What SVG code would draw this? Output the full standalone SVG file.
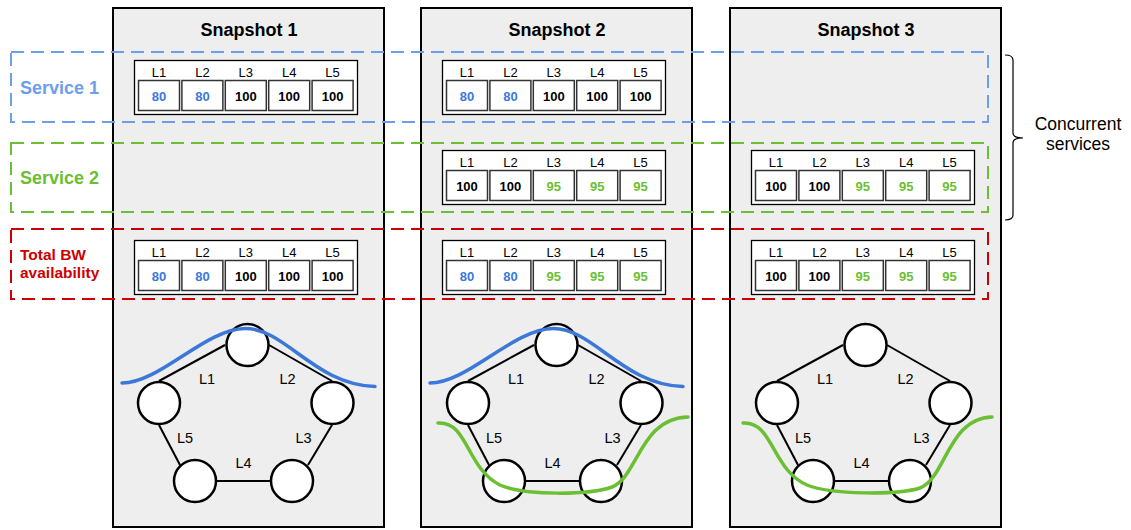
<svg xmlns="http://www.w3.org/2000/svg" width="1131" height="530" viewBox="0 0 1131 530">
  <style>
    .panel { fill: #eeeeee; stroke: #000; stroke-width: 2; }
    .title { font-family: "Liberation Sans", Arial, sans-serif; font-size: 18px; font-weight: bold; fill: #000; text-anchor: middle; }
    .band { fill: none; stroke-width: 2; stroke-dasharray: 13 7; }
    .lbl { font-family: "Liberation Sans", Arial, sans-serif; font-weight: bold; }
    .box { fill: #fff; stroke: #000; stroke-width: 1.3; }
    .cell { fill: #fff; stroke: #333; stroke-width: 1.5; }
    .hdr { font-family: "Liberation Sans", Arial, sans-serif; font-size: 13px; fill: #000; text-anchor: middle; }
    .val { font-family: "Liberation Sans", Arial, sans-serif; font-size: 13px; font-weight: bold; text-anchor: middle; }
    .k { fill: #000; }
    .b { fill: #3c78d8; }
    .g { fill: #6abf32; }
    .edge { stroke: #000; stroke-width: 2; fill: none; }
    .vertex { fill: #fff; stroke: #000; stroke-width: 2.5; }
    .elbl { font-family: "Liberation Sans", Arial, sans-serif; font-size: 14.5px; fill: #000; text-anchor: middle; }
    .path-blue { fill: none; stroke: #3c78d8; stroke-width: 3.5; stroke-linecap: round; }
    .path-green { fill: none; stroke: #6abf32; stroke-width: 3.5; stroke-linecap: round; }
    .note { font-family: "Liberation Sans", Arial, sans-serif; font-size: 17.5px; fill: #000; text-anchor: middle; }
  </style>

  <defs>
    <!-- link table frame: header row L1..L5 plus five value cells -->
    <g id="tableFrame">
      <rect class="box" x="0.5" y="0.5" width="223" height="54"/>
      <rect class="cell" x="4.5" y="20.5" width="41" height="30"/>
      <rect class="cell" x="47.9" y="20.5" width="41" height="30"/>
      <rect class="cell" x="91.3" y="20.5" width="41" height="30"/>
      <rect class="cell" x="134.7" y="20.5" width="41" height="30"/>
      <rect class="cell" x="178.1" y="20.5" width="41" height="30"/>
      <text class="hdr" x="25" y="16.5">L1</text>
      <text class="hdr" x="68.4" y="16.5">L2</text>
      <text class="hdr" x="111.8" y="16.5">L3</text>
      <text class="hdr" x="155.2" y="16.5">L4</text>
      <text class="hdr" x="198.6" y="16.5">L5</text>
    </g>
  </defs>

  <!-- snapshot panels -->
  <g id="panel-1">
    <rect class="panel" x="113" y="8" width="271" height="519"/>
    <text class="title" x="249" y="36">Snapshot 1</text>
  </g>
  <g id="panel-2">
    <rect class="panel" x="421" y="8" width="271" height="519"/>
    <text class="title" x="557" y="36">Snapshot 2</text>
  </g>
  <g id="panel-3">
    <rect class="panel" x="730" y="8" width="271" height="519"/>
    <text class="title" x="866" y="36">Snapshot 3</text>
  </g>

  <!-- service bands -->
  <g id="band-service1">
    <rect class="band" x="11" y="52" width="977" height="70" stroke="#6d9eeb"/>
    <text class="lbl" x="20" y="93.5" font-size="18" fill="#6d9eeb">Service 1</text>
  </g>
  <g id="band-service2">
    <rect class="band" x="11" y="143" width="977" height="69" stroke="#6abf32"/>
    <text class="lbl" x="20" y="183.5" font-size="18" fill="#6abf32">Service 2</text>
  </g>
  <g id="band-total">
    <rect class="band" x="11" y="229" width="977" height="70" stroke="#cc0000"/>
    <text class="lbl" x="20" y="259.5" font-size="15.5" fill="#cc0000">Total BW</text>
    <text class="lbl" x="20" y="277.5" font-size="15.5" fill="#cc0000">availability</text>
  </g>

  <!-- link bandwidth tables -->
  <g id="table-s1-service1" transform="translate(134,60)">
    <use href="#tableFrame"/>
    <text class="val b" x="25" y="40.7">80</text>
    <text class="val b" x="68.4" y="40.7">80</text>
    <text class="val k" x="111.8" y="40.7">100</text>
    <text class="val k" x="155.2" y="40.7">100</text>
    <text class="val k" x="198.6" y="40.7">100</text>
  </g>
  <g id="table-s1-total" transform="translate(134,240)">
    <use href="#tableFrame"/>
    <text class="val b" x="25" y="40.7">80</text>
    <text class="val b" x="68.4" y="40.7">80</text>
    <text class="val k" x="111.8" y="40.7">100</text>
    <text class="val k" x="155.2" y="40.7">100</text>
    <text class="val k" x="198.6" y="40.7">100</text>
  </g>
  <g id="table-s2-service1" transform="translate(442,60)">
    <use href="#tableFrame"/>
    <text class="val b" x="25" y="40.7">80</text>
    <text class="val b" x="68.4" y="40.7">80</text>
    <text class="val k" x="111.8" y="40.7">100</text>
    <text class="val k" x="155.2" y="40.7">100</text>
    <text class="val k" x="198.6" y="40.7">100</text>
  </g>
  <g id="table-s2-service2" transform="translate(442,150)">
    <use href="#tableFrame"/>
    <text class="val k" x="25" y="40.7">100</text>
    <text class="val k" x="68.4" y="40.7">100</text>
    <text class="val g" x="111.8" y="40.7">95</text>
    <text class="val g" x="155.2" y="40.7">95</text>
    <text class="val g" x="198.6" y="40.7">95</text>
  </g>
  <g id="table-s2-total" transform="translate(442,240)">
    <use href="#tableFrame"/>
    <text class="val b" x="25" y="40.7">80</text>
    <text class="val b" x="68.4" y="40.7">80</text>
    <text class="val g" x="111.8" y="40.7">95</text>
    <text class="val g" x="155.2" y="40.7">95</text>
    <text class="val g" x="198.6" y="40.7">95</text>
  </g>
  <g id="table-s3-service2" transform="translate(751,150)">
    <use href="#tableFrame"/>
    <text class="val k" x="25" y="40.7">100</text>
    <text class="val k" x="68.4" y="40.7">100</text>
    <text class="val g" x="111.8" y="40.7">95</text>
    <text class="val g" x="155.2" y="40.7">95</text>
    <text class="val g" x="198.6" y="40.7">95</text>
  </g>
  <g id="table-s3-total" transform="translate(751,240)">
    <use href="#tableFrame"/>
    <text class="val k" x="25" y="40.7">100</text>
    <text class="val k" x="68.4" y="40.7">100</text>
    <text class="val g" x="111.8" y="40.7">95</text>
    <text class="val g" x="155.2" y="40.7">95</text>
    <text class="val g" x="198.6" y="40.7">95</text>
  </g>

  <!-- ring links -->
  <g id="connectors">
    <g id="links-s1">
      <line class="edge" x1="225" y1="345" x2="159" y2="381"/>
      <line class="edge" x1="269" y1="345" x2="332" y2="381"/>
      <line class="edge" x1="159" y1="425" x2="180" y2="465"/>
      <line class="edge" x1="332" y1="425" x2="308" y2="465"/>
      <line class="edge" x1="217" y1="481" x2="270" y2="481"/>
    </g>
    <g id="links-s2" transform="translate(309,0)">
      <line class="edge" x1="225" y1="345" x2="159" y2="381"/>
      <line class="edge" x1="269" y1="345" x2="332" y2="381"/>
      <line class="edge" x1="159" y1="425" x2="180" y2="465"/>
      <line class="edge" x1="332" y1="425" x2="308" y2="465"/>
      <line class="edge" x1="217" y1="481" x2="270" y2="481"/>
    </g>
    <g id="links-s3" transform="translate(618,0)">
      <line class="edge" x1="225" y1="345" x2="159" y2="381"/>
      <line class="edge" x1="269" y1="345" x2="332" y2="381"/>
      <line class="edge" x1="159" y1="425" x2="180" y2="465"/>
      <line class="edge" x1="332" y1="425" x2="308" y2="465"/>
      <line class="edge" x1="217" y1="481" x2="270" y2="481"/>
    </g>
  </g>

  <!-- link labels -->
  <g id="link-labels">
    <g id="labels-s1">
      <text class="elbl" x="207" y="383.5">L1</text>
      <text class="elbl" x="287.5" y="383.5">L2</text>
      <text class="elbl" x="303.5" y="443">L3</text>
      <text class="elbl" x="243.5" y="467.5">L4</text>
      <text class="elbl" x="185" y="443">L5</text>
    </g>
    <g id="labels-s2" transform="translate(309,0)">
      <text class="elbl" x="207" y="383.5">L1</text>
      <text class="elbl" x="287.5" y="383.5">L2</text>
      <text class="elbl" x="303.5" y="443">L3</text>
      <text class="elbl" x="243.5" y="467.5">L4</text>
      <text class="elbl" x="185" y="443">L5</text>
    </g>
    <g id="labels-s3" transform="translate(618,0)">
      <text class="elbl" x="207" y="383.5">L1</text>
      <text class="elbl" x="287.5" y="383.5">L2</text>
      <text class="elbl" x="303.5" y="443">L3</text>
      <text class="elbl" x="243.5" y="467.5">L4</text>
      <text class="elbl" x="185" y="443">L5</text>
    </g>
  </g>

  <!-- ring nodes -->
  <g id="nodes-s1">
    <g id="s1-n1"><circle class="vertex" cx="247.5" cy="345" r="21"/></g>
    <g id="s1-n2"><circle class="vertex" cx="332.5" cy="403" r="21"/></g>
    <g id="s1-n3"><circle class="vertex" cx="292" cy="481" r="21"/></g>
    <g id="s1-n4"><circle class="vertex" cx="195" cy="481" r="21"/></g>
    <g id="s1-n5"><circle class="vertex" cx="159" cy="403" r="21"/></g>
  </g>
  <g id="nodes-s2" transform="translate(309,0)">
    <g id="s2-n1"><circle class="vertex" cx="247.5" cy="345" r="21"/></g>
    <g id="s2-n2"><circle class="vertex" cx="332.5" cy="403" r="21"/></g>
    <g id="s2-n3"><circle class="vertex" cx="292" cy="481" r="21"/></g>
    <g id="s2-n4"><circle class="vertex" cx="195" cy="481" r="21"/></g>
    <g id="s2-n5"><circle class="vertex" cx="159" cy="403" r="21"/></g>
  </g>
  <g id="nodes-s3" transform="translate(618,0)">
    <g id="s3-n1"><circle class="vertex" cx="247.5" cy="345" r="21"/></g>
    <g id="s3-n2"><circle class="vertex" cx="332.5" cy="403" r="21"/></g>
    <g id="s3-n3"><circle class="vertex" cx="292" cy="481" r="21"/></g>
    <g id="s3-n4"><circle class="vertex" cx="195" cy="481" r="21"/></g>
    <g id="s3-n5"><circle class="vertex" cx="159" cy="403" r="21"/></g>
  </g>

  <!-- service paths drawn over the rings -->
  <g id="service-paths">
    <path class="path-blue" d="M122,383 C160,383 205,329 245,328.5 C285,328 315,385 375,386.5"/>
    <path class="path-blue" d="M430,383 C468,383 513,329 553,328.5 C593,328 623,385 683,386.5"/>
    <path class="path-green" d="M438,423 C468,421 466,468 500,485 C525,496 590,495 612,487 C638,477 640,418 688,417"/>
    <path class="path-green" d="M743,423 C773,421 772,470 807,485 C832,495 898,495 920,488 C946,478 948,418 992,417"/>
  </g>

  <!-- brace grouping the concurrent services -->
  <g id="brace">
    <path d="M1005,55 Q1013,55 1013,60 L1013,133 Q1013,138 1023,138 Q1013,138 1013,143 L1013,215 Q1013,220 1005,220" fill="none" stroke="#000" stroke-width="1.2"/>
    <text class="note" x="1078" y="129.5">Concurrent</text>
    <text class="note" x="1078" y="150">services</text>
  </g>
</svg>
